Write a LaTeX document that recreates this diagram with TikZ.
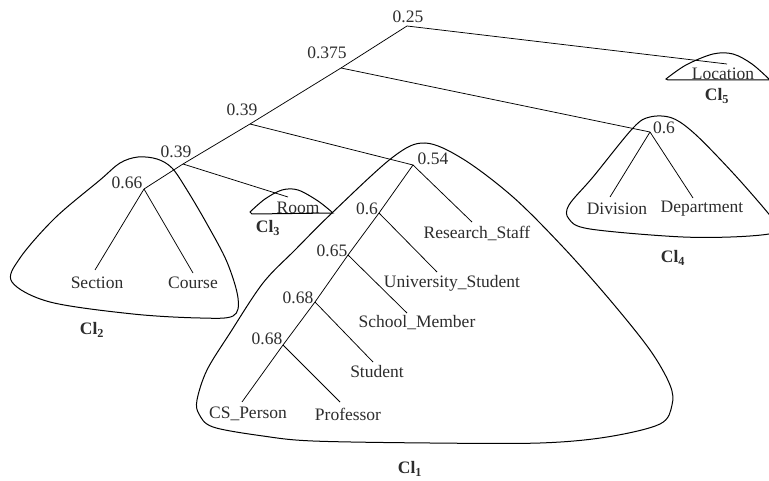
\documentclass[tikz,border=0pt]{standalone}
\usepackage{fontspec}
\setmainfont{Liberation Serif}
\begin{document}
\begin{tikzpicture}[x=1pt,y=-1pt,
  every node/.style={inner sep=0pt, text=txtc, font=\fontsize{17.5}{20}\selectfont},
  lbl/.style={font=\fontsize{17.5}{20}\selectfont\bfseries},
  edge/.style={line width=0.75pt, draw=black},
  hull/.style={line width=1pt, draw=black}]
\definecolor{txtc}{RGB}{45,45,45}
\useasboundingbox (0,0) rectangle (769,481);
\clip (0,0) rectangle (769,481);
% junction coordinates
\coordinate (j25) at (407,26);
\coordinate (j375) at (341,68);
\coordinate (j39a) at (250,124);
\coordinate (j39b) at (183,164);
\coordinate (j66) at (144,189);
\coordinate (j54) at (413,165);
\coordinate (j60) at (379,213);
\coordinate (j65) at (348,255);
\coordinate (j68a) at (315,302);
\coordinate (j68b) at (283,345);
\coordinate (j6d) at (650,132);
% leaf ends
\coordinate (eLoc) at (727,64);
\coordinate (eRoom) at (288,197);
\coordinate (eSec) at (95,270);
\coordinate (eCou) at (193,273);
\coordinate (eDiv) at (610,197);
\coordinate (eDep) at (693,198);
\coordinate (eRS) at (472,222);
\coordinate (eUS) at (437,272);
\coordinate (eSM) at (407,313);
\coordinate (eSt) at (373,362);
\coordinate (ePr) at (340,402);
\coordinate (eCS) at (242,402);
% value labels
\node (v25) at (408,17) {0.25};
\node (v375) at (327,53) {0.375};
\node (v39a) at (242,110) {0.39};
\node (v39b) at (176,152) {0.39};
\node (v66) at (127,183) {0.66};
\node (v54) at (433,159) {0.54};
\node (v60) at (367,209) {0.6};
\node (v65) at (332,251) {0.65};
\node (v68a) at (298,298) {0.68};
\node (v68b) at (267,339) {0.68};
\node (v6d) at (664,128) {0.6};
% leaves
\node[anchor=base] (Loc) at (723,79.5) {Location};
\node[anchor=base] (Room) at (298,213.5) {Room};
\node (Sec) at (97,283) {Section};
\node (Cou) at (193,283) {Course};
\node (Div) at (617,209) {Division};
\node (Dep) at (702,209) {Department};
\node (RS) at (477,233) {Research\_Staff};
\node (US) at (452,283) {University\_Student};
\node (SM) at (417,323) {School\_Member};
\node (St) at (377,372) {Student};
\node (CS) at (248,414) {CS\_Person};
\node (Pr) at (348,414) {Professor};
% cluster labels
\node[lbl] (c1) at (410,469) {Cl\textsubscript{1}};
\node[lbl] (c2) at (92,330) {Cl\textsubscript{2}};
\node[lbl] (c3) at (268,228) {Cl\textsubscript{3}};
\node[lbl] (c4) at (673,258) {Cl\textsubscript{4}};
\node[lbl] (c5) at (717,96) {Cl\textsubscript{5}};
% edges
\draw[edge] (j25) -- (j375) -- (j39a) -- (j39b) -- (j66);
\draw[edge] (j25) -- (eLoc);
\draw[edge] (j375) -- (j6d);
\draw[edge] (j39a) -- (j54);
\draw[edge] (j39b) -- (eRoom);
\draw[edge] (j66) -- (eSec);
\draw[edge] (j66) -- (eCou);
\draw[edge] (j6d) -- (eDiv);
\draw[edge] (j6d) -- (eDep);
\draw[edge] (j54) -- (j60) -- (j65) -- (j68a) -- (j68b) -- (eCS);
\draw[edge] (j54) -- (eRS);
\draw[edge] (j60) -- (eUS);
\draw[edge] (j65) -- (eSM);
\draw[edge] (j68a) -- (eSt);
\draw[edge] (j68b) -- (ePr);
% hulls
\draw[hull] plot[smooth cycle, tension=0.55] coordinates {(425,143) (463,159) (513,197) (563,247) (610,300) (650,350) (670,385) (672,405) (660,424) (607,437) (540,443) (430,443) (313,441) (263,436) (213,427) (199,414) (197,400) (207,370) (230,333) (263,283) (295,250) (333,212) (393,157)};
\draw[hull] plot[smooth cycle, tension=0.55] coordinates {(138,157) (157,159) (172,168) (187,190) (207,224) (227,262) (238,298) (233,316) (200,318) (133,314) (50,302) (12,282) (20,258) (55,218) (100,180) (120,163)};
\draw[hull] plot[smooth cycle, tension=0.55] coordinates {(650,117) (672,118) (695,134) (733,173) (768,213) (780,230) (750,236) (683,237) (590,229) (569,219) (569,205) (593,177) (633,128)};
\draw[hull] plot[smooth, tension=0.55] coordinates {(250,212) (265,199) (282,190) (298,190) (318,201) (333,213)} -- (252,214) -- cycle;
\draw[hull] plot[smooth, tension=0.55] coordinates {(666,79) (686,65) (713,54) (733,54) (752,64) (770,80)} -- (668,80) -- cycle;
\end{tikzpicture}
\end{document}
